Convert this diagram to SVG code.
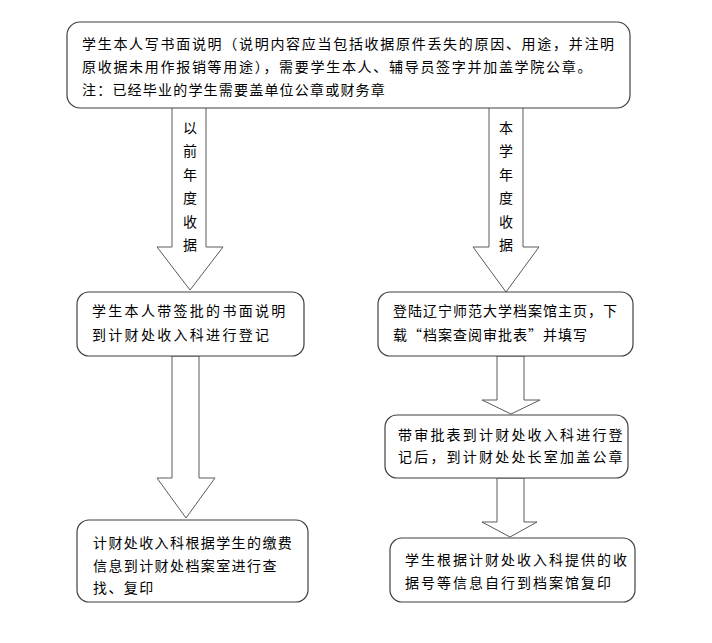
<svg xmlns="http://www.w3.org/2000/svg" width="712" height="643" viewBox="0 0 712 643">
<style>
.box{fill:#fff;stroke:#404040;stroke-width:1.2}
.arr{fill:#fff;stroke:#5a5a5a;stroke-width:1}
text{font-family:"Noto Sans CJK SC","Liberation Sans",sans-serif;font-size:14px;fill:#000}
.v{text-anchor:middle}
</style>
<rect width="712" height="643" fill="#fff"/>
<g id="connectors">
<polygon class="arr" points="172,107 206,107 206,247 223,247 190,290 157,247 172,247"/>
<polygon class="arr" points="489,107 523,107 523,247 539,247 506,292 473,247 489,247"/>
<polygon class="arr" points="172,356 199,356 199,478 215,478 186,518 157,478 172,478"/>
<polygon class="arr" points="497,356 524,356 524,400 540,400 511,414 482,400 497,400"/>
<polygon class="arr" points="497,478 524,478 524,522 537,522 510,537 482,522 497,522"/>
<g id="label-left">
<text class="v" x="190" y="133">以</text>
<text class="v" x="190" y="156">前</text>
<text class="v" x="190" y="180">年</text>
<text class="v" x="190" y="203">度</text>
<text class="v" x="190" y="227">收</text>
<text class="v" x="190" y="250">据</text>
</g>
<g id="label-right">
<text class="v" x="506" y="133">本</text>
<text class="v" x="506" y="156">学</text>
<text class="v" x="506" y="180">年</text>
<text class="v" x="506" y="203">度</text>
<text class="v" x="506" y="227">收</text>
<text class="v" x="506" y="250">据</text>
</g>
</g>
<g id="n1">
<rect class="box" x="67" y="22" width="563" height="86" rx="13"/>
<text x="82" y="49" letter-spacing="1.7">学生本人写书面说明（说明内容应当包括收据原件丢失的原因、用途，并注明</text>
<text x="82" y="72" letter-spacing="1.7">原收据未用作报销等用途），需要学生本人、辅导员签字并加盖学院公章。</text>
<text x="82" y="95" letter-spacing="1.2">注：已经毕业的学生需要盖单位公章或财务章</text>
</g>
<g id="n2">
<rect class="box" x="77" y="292" width="227" height="64" rx="12"/>
<text x="92" y="316" letter-spacing="2.3">学生本人带签批的书面说明</text>
<text x="92" y="340" letter-spacing="2.3">到计财处收入科进行登记</text>
</g>
<g id="n3">
<rect class="box" x="378" y="292" width="255" height="64" rx="12"/>
<text x="393" y="316" letter-spacing="1">登陆辽宁师范大学档案馆主页，下</text>
<text x="393" y="340" letter-spacing="1">载“档案查阅审批表”并填写</text>
</g>
<g id="n4">
<rect class="box" x="77" y="520" width="231" height="82" rx="12"/>
<text x="93" y="548" letter-spacing="1.4">计财处收入科根据学生的缴费</text>
<text x="93" y="571" letter-spacing="1.4">信息到计财处档案室进行查</text>
<text x="93" y="593" letter-spacing="1.4">找、复印</text>
</g>
<g id="n5">
<rect class="box" x="385" y="415" width="243" height="63" rx="12"/>
<text x="398" y="440" letter-spacing="2.2">带审批表到计财处收入科进行登</text>
<text x="398" y="462" letter-spacing="2.2">记后，到计财处处长室加盖公章</text>
</g>
<g id="n6">
<rect class="box" x="390" y="538" width="245" height="64" rx="12"/>
<text x="405" y="565" letter-spacing="2">学生根据计财处收入科提供的收</text>
<text x="405" y="588" letter-spacing="2">据号等信息自行到档案馆复印</text>
</g>
</svg>
